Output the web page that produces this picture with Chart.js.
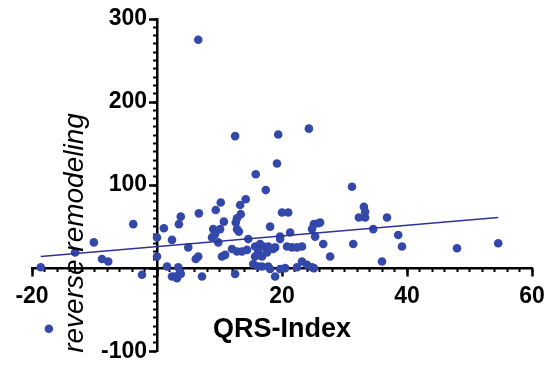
<!DOCTYPE html>
<html>
<head>
<meta charset="utf-8">
<script src="https://cdn.jsdelivr.net/npm/chart.js@4/dist/chart.umd.min.js"></script>
<style>
  body { margin: 0; background: #fff; }
  canvas { display: block; }
</style>
</head>
<body>
<canvas id="qrsChart" width="550" height="365"></canvas>
<script>
// values
const qrsIndex = [
  6.6, 12.5, 19.4, 24.3, 19.2, 15.8, 17.4, -18.6, -17.3, -13.1,
  -10.1, -8.8, -7.8, -3.8, -2.4, 0, 0, 1.1, 1.6, 2.4,
  2.4, 2.9, 3.2, 3.4, 3.8, 3.7, 3.5, 3.8, 5, 6.2,
  6.6, 6.7, 7.2, 9, 9.4, 10.2, 10.7, 10.1, 8.8, 9.8,
  9.3, 10.4, 10.9, 12.5, 12.6, 12.8, 13.3, 14.2, 13.4, 14.6,
  12, 12.8, 13.6, 14.4, 15.4, 16.2, 16.8, 17.8, 18.1, 15.7,
  16.5, 17, 17.8, 18.6, 16.2, 16.8, 17.6, 15.7, 18.1, 19.7,
  19.7, 20, 21, 21.3, 18.9, 20.8, 21.6, 22.4, 23.2, 18.9,
  19.7, 20.5, 22.4, 23.2, 24, 24.8, 25.1, 24.8, 25.3, 25.1,
  25.8, 26.1, 26.6, 27.7, 31.2, 33.1, 33.3, 32.3, 33.3, 36.8,
  34.6, 38.6, 39.2, 31.4, 36, 48, 54.6, 12.8, 13.1
];
const remodeling = [
  275, 159, 161, 168, 126, 113, 94, 1, -73, 19,
  31, 11, 8, 53, -8, 37, 14, 48, 2, -10,
  34, -10, -12, 1, -7, -5, 53, 62, 25, 11,
  14, 66, -10, 47, 70, 79, 56, 47, 37, 31,
  41, 14, 16, -7, 55, 47, 76, 83, 65, 35,
  23, 20, 20, 22, 5, 2, 2, 2, -1, 26,
  29, 26, 26, 23, 19, 14, 19, 14, 50, 35,
  38, 67, 67, 43, 25, 26, 25, 25, 26, -10,
  -1, 0, 1, 8, 4, 1, 0, 47, 38, 53,
  54, 55, 29, 14, 98, 74, 68, 61, 61, 61,
  47, 40, 26, 29, 8, 24, 30, 60, 44
];
const fitX = [-18.6, 54.6];
const fitY = [14, 61];

const xTicksMajor = 20;
const xTicksMinor = 2;
const yTicksMajor = 100;
const yTicksMinor = 10;

const fontFamily = '"Liberation Sans", Arial, Helvetica, sans-serif';
const dotColor = "rgb(52, 72, 170)";
const fitColor = "rgb(46, 52, 150)";

const axisTitles = {
  id: "axisTitles",
  afterDraw(chart) {
    const ctx = chart.ctx;
    const area = chart.chartArea;
    ctx.save();
    ctx.fillStyle = "#000";
    ctx.textAlign = "center";
    ctx.textBaseline = "alphabetic";
    ctx.font = "bold 27px " + fontFamily;
    ctx.fillText("QRS-Index", (area.left + area.right) / 2, 337);
    ctx.translate(83, 233);
    ctx.rotate(-Math.PI / 2);
    ctx.font = "italic 28px " + fontFamily;
    ctx.fillText("reverse remodeling", 0, 0);
    ctx.restore();
  },
};

const tickFont = { family: fontFamily, size: 23, weight: "bold" };
const skipZero = (v) => (v === 0 ? "" : v);

const config = {
  data: {
    datasets: [
      {
        type: "line",
        data: fitX.map((x, i) => ({ x: x, y: fitY[i] })),
        borderColor: fitColor,
        borderWidth: 1.5,
        pointRadius: 0,
        fill: false,
        order: 0,
      },
      {
        type: "scatter",
        data: qrsIndex.map((x, i) => ({ x: x, y: remodeling[i] })),
        backgroundColor: dotColor,
        borderColor: dotColor,
        borderWidth: 0,
        pointRadius: 4.3,
        order: 1,
      },
    ],
  },
  options: {
    responsive: false,
    animation: false,
    layout: { padding: { left: 32, right: 18, top: 19, bottom: 13 } },
    plugins: { legend: { display: false }, tooltip: { enabled: false } },
    scales: {
      x: {
        type: "linear",
        min: -20,
        max: 60,
        position: { y: 0 },
        border: { color: "#000", width: 2.5 },
        grid: { drawOnChartArea: false, color: "#000", tickLength: 7, tickWidth: 2.5 },
        ticks: { stepSize: xTicksMajor, display: false },
      },
      // labels of the x axis, set a little below the axis line
      xLabels: {
        type: "linear",
        axis: "x",
        min: -20,
        max: 60,
        position: { y: -6 },
        border: { display: false },
        grid: { display: false, tickLength: 7 },
        ticks: {
          stepSize: xTicksMajor,
          autoSkip: false,
          maxRotation: 0,
          padding: 3,
          color: "#000",
          font: tickFont,
          callback: skipZero,
        },
      },
      xMinor: {
        type: "linear",
        axis: "x",
        min: -20,
        max: 60,
        position: { y: 0 },
        border: { display: false },
        grid: { drawOnChartArea: false, color: "#000", tickLength: 4, tickWidth: 2 },
        ticks: { stepSize: xTicksMinor, display: false },
      },
      y: {
        type: "linear",
        min: -100,
        max: 300,
        position: { x: 0 },
        border: { color: "#000", width: 2.5 },
        grid: { drawOnChartArea: false, color: "#000", tickLength: 7, tickWidth: 2.5 },
        ticks: { stepSize: yTicksMajor, display: false },
      },
      // labels of the y axis, set a little left of the axis line
      yLabels: {
        type: "linear",
        axis: "y",
        min: -100,
        max: 300,
        position: { x: -1.6 },
        border: { display: false },
        grid: { display: false },
        ticks: {
          stepSize: yTicksMajor,
          autoSkip: false,
          padding: 0,
          color: "#000",
          font: tickFont,
          callback: skipZero,
        },
      },
      yMinor: {
        type: "linear",
        axis: "y",
        min: -100,
        max: 300,
        position: { x: 0 },
        border: { display: false },
        grid: { drawOnChartArea: false, color: "#000", tickLength: 4, tickWidth: 2 },
        ticks: { stepSize: yTicksMinor, display: false },
      },
    },
  },
  plugins: [axisTitles],
};

const qrsChart = new Chart(document.getElementById("qrsChart"), config);
</script>
</body>
</html>
